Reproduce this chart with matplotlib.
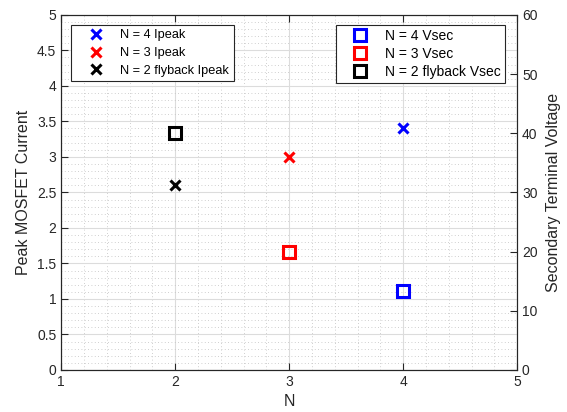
import matplotlib
matplotlib.use("Agg")
import matplotlib.pyplot as plt
from matplotlib.ticker import MultipleLocator, FuncFormatter

plt.rcParams['font.family'] = ['Liberation Sans', 'DejaVu Sans']
plt.rcParams['font.size'] = 10

# data
n_vals = [4, 3, 2]
ipeak = [3.4, 3.0, 2.6]
vsec = [13.33, 20.0, 40.0]
colors = ['#0000ff', '#ff0000', '#000000']
ipeak_labels = ['N = 4 Ipeak', 'N = 3 Ipeak', 'N = 2 flyback Ipeak']
vsec_labels = ['N = 4 Vsec', 'N = 3 Vsec', 'N = 2 flyback Vsec']

fig = plt.figure(figsize=(5.67, 4.12), dpi=100)
ax = fig.add_axes([0.108, 0.102, 0.804, 0.862])
ax2 = ax.twinx()

for n, v, c, lab in zip(n_vals, ipeak, colors, ipeak_labels):
    ax.plot(n, v, 'x', color=c, markersize=7, markeredgewidth=2.2, label=lab)
for n, v, c, lab in zip(n_vals, vsec, colors, vsec_labels):
    ax2.plot(n, v, 's', color=c, markerfacecolor='none', markersize=9,
             markeredgewidth=2.2, label=lab)

ax.set_xlim(1, 5)
ax.set_ylim(0, 5)
ax2.set_ylim(0, 60)
ax.xaxis.set_major_locator(MultipleLocator(1))
ax.xaxis.set_minor_locator(MultipleLocator(0.2))
ax.yaxis.set_major_locator(MultipleLocator(0.5))
ax.yaxis.set_minor_locator(MultipleLocator(0.1))
ax2.yaxis.set_major_locator(MultipleLocator(10))
ax2.yaxis.set_minor_locator(MultipleLocator(2))
fmt = FuncFormatter(lambda v, p: '%g' % v)
ax.xaxis.set_major_formatter(fmt)
ax.yaxis.set_major_formatter(fmt)
ax2.yaxis.set_major_formatter(fmt)

ax.grid(True, which='major', color='#dcdcdc', linewidth=0.8)
ax.grid(True, which='minor', color='#c0c0c0', linestyle=(0, (1, 3)), linewidth=0.6)
ax.set_axisbelow(True)

ax.tick_params(axis='both', which='major', direction='in', length=5,
               colors='#262626', labelcolor='#262626', top=True, labelsize=10)
ax.tick_params(axis='both', which='minor', length=0)
ax2.tick_params(axis='y', which='major', direction='in', length=5,
                colors='#262626', labelsize=10)
ax2.tick_params(axis='y', which='minor', length=0)
for sp in ax.spines.values():
    sp.set_color('#262626')
for sp in ax2.spines.values():
    sp.set_color('#262626')

ax.set_xlabel('N', color='#262626', fontsize=11.5)
ax.set_ylabel('Peak MOSFET Current', color='#262626', fontsize=11.5)
ax2.set_ylabel('Secondary Terminal Voltage', color='#262626', fontsize=11.5, labelpad=6)

leg1 = ax.legend(loc='upper left', bbox_to_anchor=(0.022, 0.972), borderaxespad=0,
                 fancybox=False, edgecolor='#262626', framealpha=1, handletextpad=0.3,
                 handlelength=3.2, borderpad=0.35, labelspacing=0.45, fontsize=9.2)
leg1.get_frame().set_linewidth(0.8)
leg2 = ax2.legend(loc='upper right', bbox_to_anchor=(0.974, 0.972), borderaxespad=0,
                  fancybox=False, edgecolor='#262626', framealpha=1, handletextpad=0.36,
                  handlelength=2.9, borderpad=0.3, labelspacing=0.3, fontsize=10)
leg2.get_frame().set_linewidth(0.8)

fig.savefig('out.png', dpi=100)
